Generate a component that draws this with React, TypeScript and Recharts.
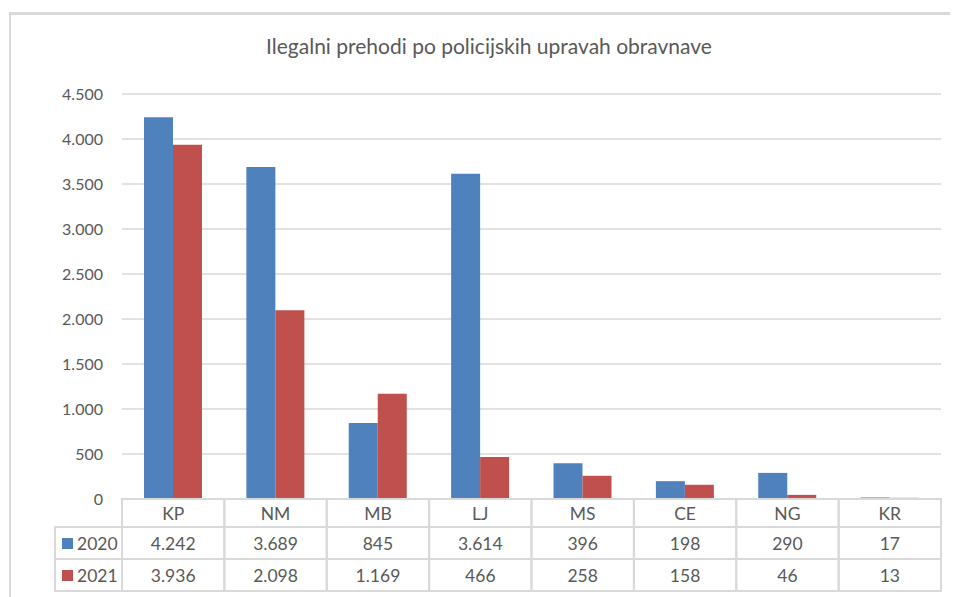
import React from "react";
import { Bar, BarChart, CartesianGrid, XAxis, YAxis } from "recharts";

const categories = ["KP", "NM", "MB", "LJ", "MS", "CE", "NG", "KR"];
const values2020 = [4242, 3689, 845, 3614, 396, 198, 290, 17];
const values2021 = [3936, 2098, 1169, 466, 258, 158, 46, 13];
const yTicks = [0, 500, 1000, 1500, 2000, 2500, 3000, 3500, 4000, 4500];
const seriesNames = ["2020", "2021"];

const data = categories.map((name, i) => ({
  name,
  y2020: values2020[i],
  y2021: values2021[i],
}));

const BLUE = "#4f81bd";
const RED = "#c0504d";
const TEXT = "#595959";
const LINE = "#d9d9d9";
const FONT = "Lato, 'Open Sans', sans-serif";

const WIDTH = 950;
const HEIGHT = 589;
const MARGIN = { top: 86, right: 17, bottom: 6, left: 54 };
const Y_AXIS_W = 60;
const PLOT_LEFT = MARGIN.left + Y_AXIS_W;
const PLOT_W = WIDTH - MARGIN.right - PLOT_LEFT;
const BAND = PLOT_W / categories.length;
const PLOT_BOTTOM = 491;
const ROW_H = [28, 32, 32];
const CELL_FONT = 17.5;

function fmt(v: number): string {
  return String(v).replace(/\B(?=(\d{3})+(?!\d))/g, ".");
}

function TableTick(props: any) {
  const { x, index, payload } = props;
  const left = x - BAND / 2;
  const r0 = PLOT_BOTTOM;
  const r1 = r0 + ROW_H[0];
  const r2 = r1 + ROW_H[1];
  const r3 = r2 + ROW_H[2];
  const rows = [values2020[index], values2021[index]];
  const colors = [BLUE, RED];
  return (
    <g>
      <rect x={left} y={r0} width={BAND} height={r3 - r0} fill="none" stroke={LINE} strokeWidth={2} />
      <line x1={left} x2={left + BAND} y1={r1} y2={r1} stroke={LINE} strokeWidth={2} />
      <line x1={left} x2={left + BAND} y1={r2} y2={r2} stroke={LINE} strokeWidth={2} />
      <text x={x} y={r0 + 21} textAnchor="middle" fill={TEXT} fontSize={CELL_FONT} fontFamily={FONT}>
        {payload.value}
      </text>
      {rows.map((v, i) => (
        <text key={i} x={x} y={(i === 0 ? r1 : r2) + 23} textAnchor="middle" fill={TEXT} fontSize={CELL_FONT} fontFamily={FONT}>
          {fmt(v)}
        </text>
      ))}
      {index === 0 && (
        <g>
          <rect x={PLOT_LEFT - 67} y={r1} width={67} height={r3 - r1} fill="none" stroke={LINE} strokeWidth={2} />
          <line x1={PLOT_LEFT - 67} x2={PLOT_LEFT} y1={r2} y2={r2} stroke={LINE} strokeWidth={2} />
          {seriesNames.map((s, i) => {
            const top = i === 0 ? r1 : r2;
            return (
              <g key={s}>
                <rect x={PLOT_LEFT - 60} y={top + 11} width={11} height={11} fill={colors[i]} />
                <text x={PLOT_LEFT - 45} y={top + 23} fill={TEXT} fontSize={CELL_FONT} fontFamily={FONT}>
                  {s}
                </text>
              </g>
            );
          })}
        </g>
      )}
    </g>
  );
}

export default function App() {
  return (
    <div style={{ position: "relative", width: WIDTH, height: HEIGHT, background: "#fff", overflow: "hidden" }}>
      <div
        style={{
          position: "absolute",
          left: 1,
          top: 4,
          width: WIDTH + 10,
          height: HEIGHT + 10,
          borderTop: `3px solid ${LINE}`,
          borderLeft: `2px solid ${LINE}`,
        }}
      />
      <div
        style={{
          position: "absolute",
          left: 0,
          width: 962,
          top: 25,
          textAlign: "center",
          fontFamily: FONT,
          fontSize: 21,
          color: TEXT,
        }}
      >
        Ilegalni prehodi po policijskih upravah obravnave
      </div>
      <BarChart width={WIDTH} height={HEIGHT} data={data} margin={MARGIN} barGap={0} barSize={29} style={{ position: "absolute", left: 0, top: 0 }}>
        <CartesianGrid vertical={false} stroke={LINE} strokeWidth={1.5} />
        <XAxis dataKey="name" height={92} axisLine={false} tickLine={false} tick={<TableTick />} interval={0} />
        <YAxis
          width={Y_AXIS_W}
          domain={[0, 4500]}
          ticks={yTicks}
          tickFormatter={fmt}
          axisLine={false}
          tickLine={false}
          tickMargin={13}
          tick={{ fill: TEXT, fontSize: 16, fontFamily: FONT }}
        />
        <Bar dataKey="y2020" fill={BLUE} isAnimationActive={false} />
        <Bar dataKey="y2021" fill={RED} isAnimationActive={false} />
      </BarChart>
    </div>
  );
}
